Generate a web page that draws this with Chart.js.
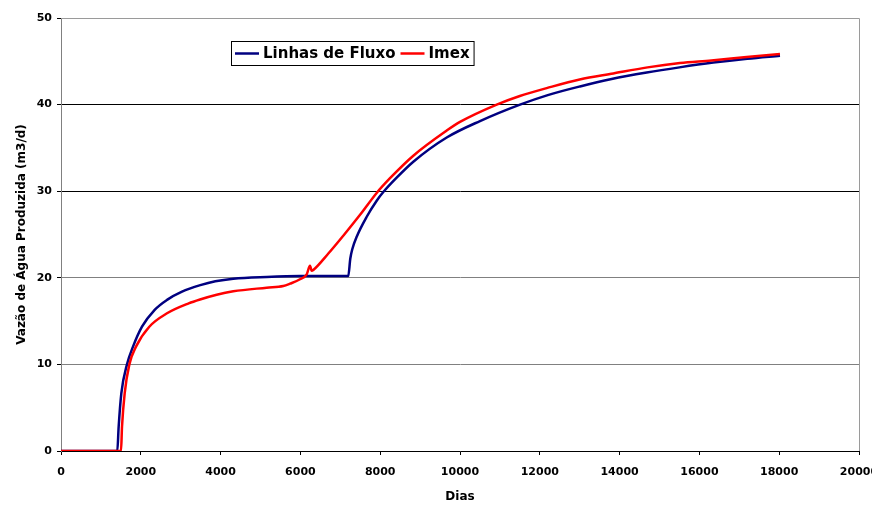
<!DOCTYPE html>
<html>
<head>
<meta charset="utf-8">
<script src="https://cdn.jsdelivr.net/npm/chart.js@4.4.0/dist/chart.umd.min.js"></script>
<style>
  html, body { margin: 0; padding: 0; background: #fff; }
</style>
</head>
<body>
<canvas id="myChart" width="872" height="506"></canvas>
<script>

// Linhas de Fluxo (blue)
const fluxoDias = [0, 1411, 1445, 1512, 1654, 1805, 2030, 2348, 2657, 3033,
  3491, 3868, 4318, 5155, 5990, 6742, 7200, 7250, 7300, 7411,
  7662, 7912, 8078, 8400, 8830, 9667, 10501, 11504, 12200, 13008,
  13800, 14679, 15500, 16348, 17200, 18020];
const fluxoVazao = [0, 0, 2.8, 6.66, 10.0, 12.05, 14.35, 16.3, 17.45, 18.4,
  19.15, 19.6, 19.9, 20.1, 20.2, 20.2, 20.2, 22.2, 23.3, 24.75,
  27.05, 28.9, 29.9, 31.5, 33.4, 36.2, 38.1, 40.0, 41.1, 42.1,
  42.95, 43.7, 44.3, 44.85, 45.3, 45.65];

// Imex (red)
const imexDias = [0, 1504, 1529, 1596, 1713, 1880, 2213, 2657, 3200, 3484,
  3902, 4318, 5155, 5572, 5739, 5990, 6158, 6241, 6283, 6323,
  6700, 7100, 7500, 7912, 8246, 8830, 9667, 10000, 10920, 11500,
  12173, 13000, 13842, 14700, 15514, 16300, 17185, 18020];
const imexVazao = [0, 0, 2.8, 6.66, 10.0, 12.05, 14.35, 15.9, 17.05, 17.5,
  18.05, 18.44, 18.86, 19.05, 19.32, 19.83, 20.4, 21.4, 20.8, 20.9,
  22.8, 25.0, 27.3, 29.8, 31.5, 34.1, 37.0, 38.0, 40.0, 41.0,
  41.9, 42.9, 43.6, 44.3, 44.8, 45.1, 45.5, 45.85];

const xTicks = [0, 2000, 4000, 6000, 8000, 10000, 12000, 14000, 16000, 18000, 20000];
const yTicks = [0, 10, 20, 30, 40, 50];

const fontFamily = '"DejaVu Sans", Arial, sans-serif';

function toPoints(xs, ys) {
  return xs.map(function (x, i) { return { x: x, y: ys[i] }; });
}

// legend box inside the plot + gray frame top/right
const boxPlugin = {
  id: 'boxPlugin',
  afterDraw: function (chart) {
    const ctx = chart.ctx;
    const a = chart.chartArea;
    ctx.save();
    ctx.strokeStyle = '#9a9a9a';
    ctx.lineWidth = 1;
    ctx.beginPath();
    ctx.moveTo(a.left, a.top + 0.5);
    ctx.lineTo(a.right + 0.5, a.top + 0.5);
    ctx.lineTo(a.right + 0.5, a.bottom);
    ctx.stroke();

    // legend
    ctx.font = 'bold 15px ' + fontFamily;
    const bx = a.left + 170, by = a.top + 23, bh = 24;
    let x = bx + 4;
    const items = chart.data.datasets.map(function (ds) {
      return { label: ds.label, color: ds.borderColor, w: ctx.measureText(ds.label).width };
    });
    let total = 4;
    items.forEach(function (it, i) { total += 24 + 4 + it.w + (i < items.length - 1 ? 5 : 4); });
    ctx.fillStyle = '#fff';
    ctx.fillRect(bx, by, total, bh);
    ctx.strokeStyle = '#000';
    ctx.strokeRect(bx + 0.5, by + 0.5, total, bh);
    const cy = by + bh / 2 + 0.5;
    ctx.textBaseline = 'middle';
    items.forEach(function (it) {
      ctx.strokeStyle = it.color;
      ctx.lineWidth = 2.5;
      ctx.beginPath();
      ctx.moveTo(x, cy);
      ctx.lineTo(x + 24, cy);
      ctx.stroke();
      x += 28;
      ctx.fillStyle = '#000';
      ctx.fillText(it.label, x, cy + 1);
      x += it.w + 5;
    });
    ctx.restore();
  }
};

const data = {
  datasets: [{
    label: 'Linhas de Fluxo',
    data: toPoints(fluxoDias, fluxoVazao),
    borderColor: '#000080',
    backgroundColor: '#000080',
    borderWidth: 2.5,
    pointRadius: 0,
    cubicInterpolationMode: 'monotone',
    order: 2
  },
  {
    label: 'Imex',
    data: toPoints(imexDias, imexVazao),
    borderColor: '#ff0000',
    backgroundColor: '#ff0000',
    borderWidth: 2.5,
    pointRadius: 0,
    cubicInterpolationMode: 'monotone',
    order: 1
  }]
};

const config = {
  type: 'line',
  data: data,
  plugins: [boxPlugin],
  options: {
    responsive: false,
    animation: false,
    layout: { padding: { left: 0, right: 13, top: 18, bottom: 0 } },
    plugins: { legend: { display: false }, tooltip: { enabled: false } },
    scales: {
      x: {
        type: 'linear',
        min: 0,
        max: 20000,
        afterBuildTicks: function (scale) {
          scale.ticks = xTicks.map(function (v) { return { value: v }; });
        },
        afterFit: function (scale) {
          scale.height = 55;
          scale.paddingLeft = 0;
          scale.paddingRight = 0;
        },
        grid: { drawOnChartArea: false, tickLength: 4, tickColor: '#000' },
        border: { color: '#000', width: 1 },
        ticks: {
          color: '#000',
          padding: 11,
          maxRotation: 0,
          autoSkip: false,
          font: { family: fontFamily, size: 11, weight: 'bold' },
          callback: function (v) { return String(v); }
        },
        title: {
          display: true,
          text: 'Dias',
          color: '#000',
          padding: { top: 0, bottom: 2 },
          font: { family: fontFamily, size: 12, weight: 'bold' }
        }
      },
      y: {
        min: 0,
        max: 50,
        afterBuildTicks: function (scale) {
          scale.ticks = yTicks.map(function (v) { return { value: v }; });
        },
        afterFit: function (scale) { scale.width = 61; },
        grid: {
          color: function (c) {
            const v = c.tick ? c.tick.value : 0;
            return (v === 30 || v === 40) ? '#000' : '#808080';
          },
          tickLength: 4,
          tickColor: '#000'
        },
        border: { color: '#808080', width: 1 },
        ticks: {
          color: '#000',
          padding: 5,
          font: { family: fontFamily, size: 11, weight: 'bold' }
        },
        title: {
          display: true,
          text: 'Vazão de Água Produzida (m3/d)',
          color: '#000',
          padding: { top: 15, bottom: 0 },
          font: { family: fontFamily, size: 12, weight: 'bold' }
        }
      }
    }
  }
};

var myChart = new Chart(document.getElementById('myChart'), config);
</script>
</body>
</html>
